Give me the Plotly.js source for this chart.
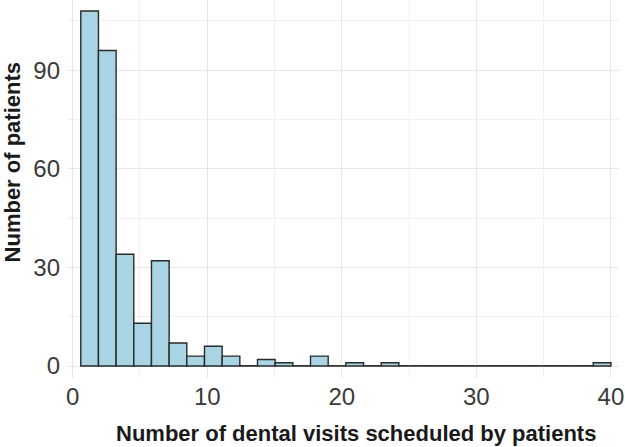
<!DOCTYPE html>
<html>
<head>
<meta charset="utf-8">
<script src="https://cdn.plot.ly/plotly-3.0.1.min.js"></script>
<style>
  html, body { margin: 0; padding: 0; background: #ffffff; }
  #chart { width: 625px; height: 447px; }
</style>
</head>
<body>
<div id="chart"></div>
<script>
// Histogram of scheduled dental visits per patient (30 equal-width bins)
const binStart = 0.6;
const binEnd = 40;
const binCounts = [108, 96, 34, 13, 32, 7, 3, 6, 3, 0,
                   2, 1, 0, 3, 0, 1, 0, 1, 0, 0,
                   0, 0, 0, 0, 0, 0, 0, 0, 0, 1];
const xTickVals = [0, 10, 20, 30, 40];
const yTickVals = [0, 30, 60, 90];
const xTitle = 'Number of dental visits scheduled by patients';
const yTitle = 'Number of patients';

const binWidth = (binEnd - binStart) / binCounts.length;
const binCenters = binCounts.map((_, i) => binStart + binWidth * (i + 0.5));

const gridMajor = '#e6e6e6';
const gridMinor = '#f1f1f1';
const tickFont = { family: 'Liberation Sans, Arial, sans-serif', size: 24, color: '#3a3a3a' };
const titleFont = { family: 'Liberation Sans, Arial, sans-serif', size: 22, color: '#1a1a1a', weight: 'bold' };

const trace = {
  type: 'bar',
  x: binCenters,
  y: binCounts,
  width: binCounts.map(() => binWidth),
  marker: { color: '#a8d4e4', line: { color: '#2a2a2a', width: 1.4 } },
  hoverinfo: 'x+y'
};

const layout = {
  width: 625,
  height: 447,
  margin: { l: 68, r: 6, t: 0, b: 69, pad: 0 },
  paper_bgcolor: '#ffffff',
  plot_bgcolor: '#ffffff',
  showlegend: false,
  bargap: 0,
  xaxis: {
    range: [-0.35, 40.6],
    tickvals: xTickVals,
    ticktext: xTickVals.map(String),
    showgrid: true,
    gridcolor: gridMajor,
    gridwidth: 1,
    minor: { dtick: 5, tick0: 0, showgrid: true, gridcolor: gridMinor, gridwidth: 1 },
    zeroline: false,
    showline: false,
    ticks: '',
    ticklabelstandoff: 2,
    ticklabeloverflow: 'allow',
    tickfont: tickFont
  },
  yaxis: {
    range: [-3.65, 111.35],
    tickvals: yTickVals,
    ticktext: yTickVals.map(String),
    showgrid: true,
    gridcolor: gridMajor,
    gridwidth: 1,
    minor: { dtick: 15, tick0: 0, showgrid: true, gridcolor: gridMinor, gridwidth: 1 },
    zeroline: false,
    showline: false,
    ticks: '',
    ticklabelstandoff: 7,
    ticklabeloverflow: 'allow',
    tickfont: tickFont
  },
  shapes: [{
    type: 'line', xref: 'x', yref: 'y',
    x0: binStart, x1: binStart + binWidth * binCounts.length, y0: 0, y1: 0,
    line: { color: '#555555', width: 2 },
    layer: 'below'
  }],
  annotations: [
    {
      text: xTitle, xref: 'paper', yref: 'paper', x: 0.522, y: -0.148,
      xanchor: 'center', yanchor: 'middle', showarrow: false, font: titleFont
    },
    {
      text: yTitle, xref: 'paper', yref: 'paper', x: -0.1, y: 0.57,
      xanchor: 'center', yanchor: 'middle', textangle: -90, showarrow: false, font: titleFont
    }
  ]
};

Plotly.newPlot('chart', [trace], layout, { displayModeBar: false, staticPlot: true });
</script>
</body>
</html>
